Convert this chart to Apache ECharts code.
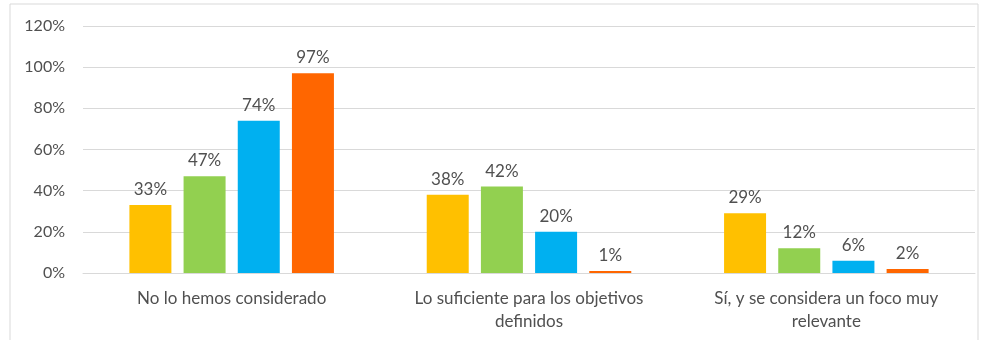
<!DOCTYPE html>
<html>
<head>
<meta charset="utf-8">
<script src="https://cdn.jsdelivr.net/npm/echarts@6/dist/echarts.min.js"></script>
<style>
  html, body { margin: 0; padding: 0; background: #fff; }
  #chart { width: 982px; height: 340px; }
</style>
</head>
<body>
<div id="chart"></div>
<script>
let categories = ['No lo hemos considerado', 'Lo suficiente para los objetivos\ndefinidos', 'Sí, y se considera un foco muy\nrelevante'];
let serieA = [33, 38, 29];
let serieB = [47, 42, 12];
let serieC = [74, 20, 6];
let serieD = [97, 1, 2];
let colors = ['#FFC000', '#92D050', '#00B0F0', '#FF6600'];

let chartDom = document.getElementById('chart');
let myChart = echarts.init(chartDom);

let labelStyle = {
    show: true,
    position: 'top',
    distance: 7,
    formatter: '{c}%',
    color: '#505050',
    fontSize: 17,
    fontFamily: 'Lato'
};

function makeSeries(data, i) {
    return {
        type: 'bar',
        data: data,
        barWidth: 42,
        barGap: '29%',
        itemStyle: { color: colors[i] },
        label: labelStyle
    };
}

let option = {
    animation: false,
    textStyle: { fontFamily: 'Lato' },
    graphic: [{
        type: 'rect',
        shape: { x: 10, y: 4, width: 968, height: 345 },
        style: { fill: 'none', stroke: '#d9d9d9', lineWidth: 1 }
    }],
    grid: { left: 83, right: 7, top: 26, bottom: 67 },
    xAxis: {
        type: 'category',
        data: categories,
        axisLine: { lineStyle: { color: '#d9d9d9' } },
        axisTick: { show: false },
        axisLabel: { interval: 0, hideOverlap: false, color: '#505050', fontSize: 17, lineHeight: 23, margin: 14 }
    },
    yAxis: {
        type: 'value',
        min: 0,
        max: 120,
        interval: 20,
        axisLine: { show: false },
        axisTick: { show: false },
        splitLine: { lineStyle: { color: '#d9d9d9' } },
        axisLabel: { color: '#505050', fontSize: 16, margin: 18, formatter: '{value}%' }
    },
    series: [serieA, serieB, serieC, serieD].map(makeSeries)
};

myChart.setOption(option);
</script>
</body>
</html>
